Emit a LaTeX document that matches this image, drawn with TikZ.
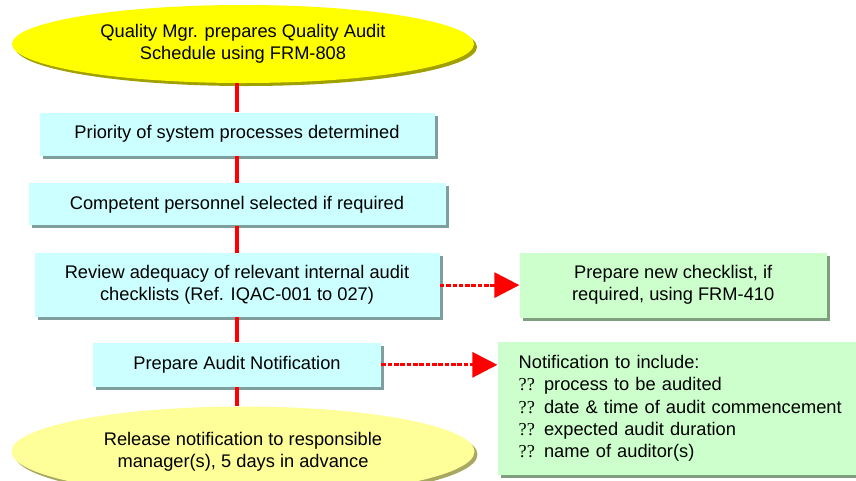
\documentclass[tikz,border=0pt]{standalone}
\usepackage{fontspec}
\setmainfont{Liberation Sans}
\newfontfamily\qmark{Liberation Serif}
\usepackage{tikz}
\usetikzlibrary{shapes, arrows.meta, positioning, shadows}
\definecolor{paleblue}{RGB}{204, 255, 255}
\definecolor{blueshade}{RGB}{127, 159, 159}
\definecolor{palegreen}{RGB}{204, 255, 204}
\definecolor{greenshade}{RGB}{127, 159, 127}
\definecolor{brightyellow}{RGB}{255, 255, 0}
\definecolor{yellowshade}{RGB}{160, 160, 0}
\definecolor{paleyellow}{RGB}{255, 255, 153}
\definecolor{paleshade}{RGB}{168, 168, 96}
\definecolor{linkred}{RGB}{255, 0, 0}

\begin{document}
\begin{tikzpicture}[
		box/.style={fill=paleblue, inner sep=0pt, align=center, font=\fontsize{10.4}{12.6}\selectfont,
			drop shadow={shadow xshift=0.06cm, shadow yshift=-0.06cm, fill=blueshade, opacity=1}},
		note/.style={fill=palegreen, inner sep=0pt, font=\fontsize{10.4}{12.6}\selectfont,
			drop shadow={shadow xshift=0.06cm, shadow yshift=-0.06cm, fill=greenshade, opacity=1}},
		oval/.style={ellipse, inner sep=0pt, align=center, font=\fontsize{10.4}{12.6}\selectfont},
		link/.style={draw=linkred, line width=2pt},
		dasharrow/.style={draw=linkred, line width=1.8pt, dash pattern=on 2.6pt off 1pt,
			-{Triangle[length=0.5cm, width=0.5cm, fill=linkred]}}
	]

	\useasboundingbox (0,0) rectangle (17.12,-9.6);

	% Start
	\node[oval, fill=brightyellow, minimum width=9.24cm, minimum height=1.56cm,
		drop shadow={shadow xshift=0.06cm, shadow yshift=-0.06cm, fill=yellowshade, opacity=1}]
		(start) at (4.86,-0.88) {Quality Mgr. prepares Quality Audit\\Schedule using FRM-808};

	% Steps
	\node[box, minimum width=7.9cm, minimum height=0.86cm, below=0.58cm of start, xshift=-0.12cm]
		(priority) {Priority of system processes determined};
	\node[box, minimum width=8.34cm, minimum height=0.84cm, below=0.54cm of priority]
		(staff) {Competent personnel selected if required};
	\node[box, minimum width=8.1cm, minimum height=1.28cm, below=0.54cm of staff]
		(review) {Review adequacy of relevant internal audit\\checklists (Ref. IQAC-001 to 027)};
	\node[box, minimum width=5.76cm, minimum height=0.88cm, below=0.5cm of review]
		(notify) {Prepare Audit Notification};

	% End
	\node[oval, fill=paleyellow, minimum width=9.26cm, minimum height=1.8cm, below=0.38cm of notify, xshift=0.12cm,
		drop shadow={shadow xshift=0.06cm, shadow yshift=-0.06cm, fill=paleshade, opacity=1}]
		(release) {Release notification to responsible\\manager(s), 5 days in advance};

	% Side notes
	\node[note, align=center, minimum width=6.14cm, minimum height=1.3cm, right=1.59cm of review]
		(checklist) {Prepare new checklist, if\\required, using FRM-410};
	\node[note, align=left, text width=6.56cm, inner xsep=0.42cm, minimum height=2.66cm,
		right=2.32cm of notify, yshift=-0.87cm]
		(content) {Notification to include:\\
			{\qmark ??} process to be audited\\
			{\qmark ??} date \& time of audit commencement\\
			{\qmark ??} expected audit duration\\
			{\qmark ??} name of auditor(s)};

	% Links
	\draw[link] (start.south -| priority.north) -- (priority.north);
	\draw[link] (priority) -- (staff);
	\draw[link] (staff) -- (review);
	\draw[link] (review) -- (notify);
	\draw[link] (notify.south) -- (notify.south |- release.north);

	\draw[dasharrow] (review.east) -- (checklist.west);
	\draw[dasharrow] (notify.east) -- (notify.east -| content.west);
\end{tikzpicture}
\end{document}
